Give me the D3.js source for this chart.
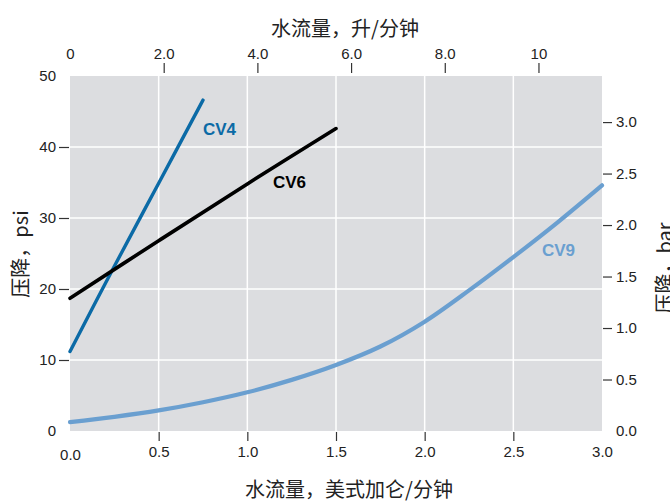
<!DOCTYPE html>
<html><head><meta charset="utf-8">
<script src="https://cdn.jsdelivr.net/npm/d3@7"></script>
<style>
html,body{margin:0;padding:0;background:#fff;}
svg{display:block;}
.tick text{font-family:"Liberation Sans",Arial,Helvetica,sans-serif;}
</style></head>
<body><div id="chart"></div>
<script>
// ---- data ----
const cv4Flow = [0, 0.25, 0.5, 0.75];
const cv4Psi  = [11.2, 23.2, 34.9, 46.6];
const cv6Flow = [0, 0.5, 1.0, 1.5];
const cv6Psi  = [18.7, 26.8, 34.8, 42.6];
const cv9Flow = [0, 0.25, 0.5, 0.75, 1.0, 1.25, 1.5, 1.75, 2.0, 2.25, 2.5, 2.75, 3.0];
const cv9Psi  = [1.25, 2.0, 2.9, 4.05, 5.45, 7.2, 9.3, 11.9, 15.4, 19.8, 24.5, 29.4, 34.6];
const seriesNames = ["CV4", "CV6", "CV9"];

const bottomTicks = [0, 0.5, 1.0, 1.5, 2.0, 2.5, 3.0];
const bottomTickLabels = ["0.0", "0.5", "1.0", "1.5", "2.0", "2.5", "3.0"];
const topTicks = [0, 2, 4, 6, 8, 10];
const topTickLabels = ["0", "2.0", "4.0", "6.0", "8.0", "10"];
const leftTicks = [0, 10, 20, 30, 40, 50];
const leftTickLabels = ["0", "10", "20", "30", "40", "50"];
const rightTicks = [0, 0.5, 1.0, 1.5, 2.0, 2.5, 3.0];
const rightTickLabels = ["0.0", "0.5", "1.0", "1.5", "2.0", "2.5", "3.0"];

const topTitle = "水流量，升/分钟";
const bottomTitle = "水流量，美式加仑/分钟";
const leftTitle = "压降，psi";
const rightTitle = "压降，bar";

const GPM_TO_LPM = 3.78541;
const BAR_TO_PSI = 14.5038;

// ---- layout ----
const W = 670, H = 501;
const L = 70, R = 602, T = 76, B = 431;
const svg = d3.select("#chart").append("svg").attr("width", W).attr("height", H);

const x = d3.scaleLinear().domain([0, 3]).range([L, R]);
const xL = d3.scaleLinear().domain([0, 3 * GPM_TO_LPM]).range([L, R]);
const y = d3.scaleLinear().domain([0, 50]).range([B, T]);
const yBar = d3.scaleLinear().domain([0, 50 / BAR_TO_PSI]).range([B, T]);

// plot background
svg.append("rect").attr("x", L).attr("y", T).attr("width", R - L).attr("height", B - T).attr("fill", "#dcdde0");

// grid
const g = svg.append("g");
g.selectAll(".vg").data(bottomTicks.filter(d => d > 0 && d < 3)).enter().append("line")
  .attr("x1", d => x(d)).attr("x2", d => x(d)).attr("y1", T).attr("y2", B)
  .attr("stroke", "#fff").attr("stroke-width", 1.5);
g.selectAll(".hg").data(leftTicks.filter(d => d > 0 && d < 50)).enter().append("line")
  .attr("x1", L).attr("x2", R).attr("y1", d => y(d)).attr("y2", d => y(d))
  .attr("stroke", "#fff").attr("stroke-width", 1.5);

function styleAxis(sel, hideVals) {
  sel.select(".domain").remove();
  sel.selectAll(".tick line").attr("stroke", "#333").attr("stroke-width", 1.2)
    .attr("opacity", d => hideVals.includes(d) ? 0 : 1);
  sel.selectAll(".tick text").attr("font-size", 15).attr("fill", "#222");
}

// bottom axis
const bAx = svg.append("g").attr("transform", `translate(0,${B + 1})`)
  .call(d3.axisBottom(x).tickValues(bottomTicks).tickSize(9).tickPadding(5)
    .tickFormat((d, i) => bottomTickLabels[i]));
styleAxis(bAx, [0, 3]);
bAx.selectAll(".tick text").attr("dy", (d) => d === 0 ? "0.95em" : "0.71em");

// top axis
const tAx = svg.append("g").attr("transform", `translate(0,${T - 3})`)
  .call(d3.axisTop(xL).tickValues(topTicks).tickSize(10).tickPadding(4)
    .tickFormat((d, i) => topTickLabels[i]));
styleAxis(tAx, [0]);

// left axis
const lAx = svg.append("g").attr("transform", `translate(${L - 1},0)`)
  .call(d3.axisLeft(y).tickValues(leftTicks).tickSize(10).tickPadding(3)
    .tickFormat((d, i) => leftTickLabels[i]));
styleAxis(lAx, [0, 50]);

// right axis
const rAx = svg.append("g").attr("transform", `translate(${R + 1},0)`)
  .call(d3.axisRight(yBar).tickValues(rightTicks).tickSize(9).tickPadding(4)
    .tickFormat((d, i) => rightTickLabels[i]));
styleAxis(rAx, [0]);

// titles
const cjk = '"Noto Sans CJK SC","Noto Sans",sans-serif';
svg.append("text").attr("x", 345).attr("y", 27).attr("text-anchor", "middle")
  .attr("dominant-baseline", "central").attr("font-family", cjk).attr("font-size", 20)
  .attr("fill", "#222").text(topTitle);
svg.append("text").attr("x", 349).attr("y", 488).attr("text-anchor", "middle")
  .attr("dominant-baseline", "central").attr("font-family", cjk).attr("font-size", 20)
  .attr("fill", "#222").text(bottomTitle);
svg.append("text").attr("transform", "translate(19,254) rotate(-90)").attr("text-anchor", "middle")
  .attr("dominant-baseline", "central").attr("font-family", cjk).attr("font-size", 20)
  .attr("fill", "#222").text(leftTitle);
svg.append("text").attr("transform", "translate(663,268) rotate(-90)").attr("text-anchor", "middle")
  .attr("dominant-baseline", "central").attr("font-family", cjk).attr("font-size", 20)
  .attr("fill", "#222").text(rightTitle);

// lines
const line = d3.line().x(d => x(d[0])).y(d => y(d[1])).curve(d3.curveCatmullRom.alpha(0.5));
const series = [
  {name: seriesNames[0], flow: cv4Flow, psi: cv4Psi, color: "#0b6aa6", w: 3.4, lx: 203, ly: 129},
  {name: seriesNames[1], flow: cv6Flow, psi: cv6Psi, color: "#000000", w: 3.6, lx: 273, ly: 182},
  {name: seriesNames[2], flow: cv9Flow, psi: cv9Psi, color: "#6a9fd0", w: 4.2, lx: 542, ly: 250}
];
series.forEach(s => {
  const pts = s.flow.map((f, i) => [f, s.psi[i]]);
  svg.append("path").attr("d", line(pts)).attr("fill", "none")
    .attr("stroke", s.color).attr("stroke-width", s.w).attr("stroke-linecap", "round");
  svg.append("text").attr("x", s.lx).attr("y", s.ly).attr("dominant-baseline", "central")
    .attr("font-family", '"Liberation Sans",Arial,sans-serif').attr("font-weight", "bold")
    .attr("font-size", 17).attr("fill", s.color).text(s.name);
});
</script></body></html>
